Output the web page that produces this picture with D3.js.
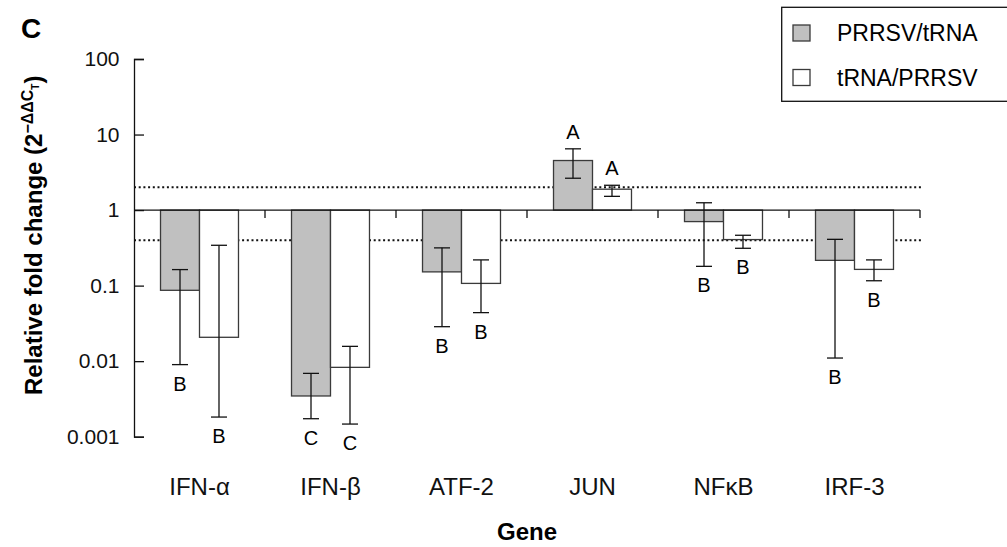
<!DOCTYPE html>
<html>
<head>
<meta charset="utf-8">
<script src="https://cdn.jsdelivr.net/npm/d3@7"></script>
<style>
  body { margin: 0; background: #fff; }
  svg { display: block; font-family: "Liberation Sans", Arial, Helvetica, sans-serif; }
</style>
</head>
<body>
<div id="chart"></div>
<script>
const width = 1007;
const height = 547;

// data
const genes = ["IFN-α", "IFN-β", "ATF-2", "JUN", "NFκB", "IRF-3"];
const seriesNames = ["PRRSV/tRNA", "tRNA/PRRSV"];
const seriesColors = ["#c0c0c0", "#ffffff"];

const prrsvMean = [0.0867, 0.00346, 0.152, 4.53, 0.704, 0.216];
const prrsvHigh = [0.163, 0.00689, 0.316, 6.47, 1.25, 0.410];
const prrsvLow = [0.0090, 0.00173, 0.0286, 2.64, 0.180, 0.0110];
const prrsvLetters = ["B", "C", "B", "A", "B", "B"];

const trnaMean = [0.0207, 0.00828, 0.107, 1.89, 0.407, 0.164];
const trnaHigh = [0.342, 0.0157, 0.219, 2.13, 0.464, 0.219];
const trnaLow = [0.00182, 0.00147, 0.0439, 1.52, 0.312, 0.116];
const trnaLetters = ["B", "C", "B", "A", "B", "B"];

const yTicks = [0.001, 0.01, 0.1, 1, 10, 100];
const yTickLabels = ["0.001", "0.01", "0.1", "1", "10", "100"];
const thresholds = [2, 0.4];

const rows = [];
genes.forEach((g, i) => {
  rows.push({ gene: g, series: seriesNames[0], mean: prrsvMean[i], hi: prrsvHigh[i], lo: prrsvLow[i], letter: prrsvLetters[i] });
  rows.push({ gene: g, series: seriesNames[1], mean: trnaMean[i], hi: trnaHigh[i], lo: trnaLow[i], letter: trnaLetters[i] });
});

const svg = d3.select("#chart")
  .append("svg")
  .attr("width", width)
  .attr("height", height);

const x = d3.scaleBand()
  .domain(genes)
  .range([134, 920])
  .paddingInner(0)
  .paddingOuter(0);

const x1 = d3.scaleBand()
  .domain(seriesNames)
  .range([0, x.bandwidth()])
  .paddingInner(0)
  .paddingOuter(0.68);

const y = d3.scaleLog()
  .domain([0.001, 100])
  .range([436.7, 59]);

const color = d3.scaleOrdinal().domain(seriesNames).range(seriesColors);

// panel letter
svg.append("text")
  .attr("x", 21)
  .attr("y", 37.5)
  .attr("font-size", 28)
  .attr("font-weight", "bold")
  .text("C");

// dotted threshold lines
svg.selectAll(".threshold")
  .data(thresholds)
  .enter()
  .append("line")
  .attr("class", "threshold")
  .attr("x1", 134)
  .attr("x2", 923)
  .attr("y1", d => y(d))
  .attr("y2", d => y(d))
  .attr("stroke", "#111")
  .attr("stroke-width", 2)
  .attr("stroke-dasharray", "2 2.7");

// bars
svg.selectAll(".bar")
  .data(rows)
  .enter()
  .append("rect")
  .attr("class", "bar")
  .attr("x", d => x(d.gene) + x1(d.series))
  .attr("width", x1.bandwidth())
  .attr("y", d => Math.min(y(d.mean), y(1)))
  .attr("height", d => Math.abs(y(d.mean) - y(1)))
  .attr("fill", d => color(d.series))
  .attr("stroke", "#3a3a3a")
  .attr("stroke-width", 1.3);

// baseline at 1 with boundary ticks
svg.append("line")
  .attr("x1", 134)
  .attr("x2", 920)
  .attr("y1", y(1))
  .attr("y2", y(1))
  .attr("stroke", "#111")
  .attr("stroke-width", 1.3);

svg.selectAll(".btick")
  .data(genes)
  .enter()
  .append("line")
  .attr("class", "btick")
  .attr("x1", d => x(d) + x.bandwidth())
  .attr("x2", d => x(d) + x.bandwidth())
  .attr("y1", y(1))
  .attr("y2", y(1) + 8)
  .attr("stroke", "#111")
  .attr("stroke-width", 1.3);

// error bars
const cap = 8;
const err = svg.selectAll(".err")
  .data(rows)
  .enter()
  .append("g")
  .attr("class", "err")
  .attr("transform", d => `translate(${x(d.gene) + x1(d.series) + x1.bandwidth() / 2},0)`)
  .attr("stroke", "#111")
  .attr("stroke-width", 1.3);

err.append("line")
  .attr("x1", 0).attr("x2", 0)
  .attr("y1", d => y(d.hi))
  .attr("y2", d => y(d.lo));
err.append("line")
  .attr("x1", -cap).attr("x2", cap)
  .attr("y1", d => y(d.hi))
  .attr("y2", d => y(d.hi));
err.append("line")
  .attr("x1", -cap).attr("x2", cap)
  .attr("y1", d => y(d.lo))
  .attr("y2", d => y(d.lo));

// significance letters
svg.selectAll(".letter")
  .data(rows)
  .enter()
  .append("text")
  .attr("class", "letter")
  .attr("x", d => x(d.gene) + x1(d.series) + x1.bandwidth() / 2)
  .attr("y", d => d.mean >= 1 ? y(d.hi) - 10 : y(d.lo) + 26)
  .attr("text-anchor", "middle")
  .attr("font-size", 20)
  .text(d => d.letter);

// y axis
const yAxis = d3.axisLeft(y)
  .tickValues(yTicks)
  .tickFormat((d, i) => yTickLabels[i])
  .tickSizeInner(-10)
  .tickSizeOuter(-10)
  .tickPadding(14.5);

const yg = svg.append("g")
  .attr("transform", "translate(134,0)")
  .call(yAxis);
yg.selectAll("path, line").attr("stroke", "#111").attr("stroke-width", 1.3);
yg.selectAll("text")
  .attr("font-size", 21)
  .attr("font-family", "Liberation Sans, Arial, sans-serif")
  .attr("fill", "#111");

// category labels
const xAxis = d3.axisBottom(x).tickSize(0).tickPadding(0);
const xg = svg.append("g")
  .attr("transform", "translate(0,478)")
  .call(xAxis);
xg.select(".domain").remove();
xg.selectAll("text")
  .attr("font-size", 24)
  .attr("font-family", "Liberation Sans, Arial, sans-serif")
  .attr("fill", "#111");

// axis titles
svg.append("text")
  .attr("x", 527)
  .attr("y", 540)
  .attr("text-anchor", "middle")
  .attr("font-size", 24)
  .attr("font-weight", "bold")
  .text("Gene");

const yTitle = svg.append("text")
  .attr("transform", "translate(41.5,395) rotate(-90)")
  .attr("font-size", 24)
  .attr("font-weight", "bold");
yTitle.append("tspan").text("Relative fold change (2");
yTitle.append("tspan").attr("font-size", 16).attr("dy", -9).text("−ΔΔC");
yTitle.append("tspan").attr("font-size", 10).attr("dy", 6).text("T");
yTitle.append("tspan").attr("dy", 3).text(")");

// legend
const legend = svg.append("g");
legend.append("rect")
  .attr("x", 781.7)
  .attr("y", 7.3)
  .attr("width", 240)
  .attr("height", 94)
  .attr("fill", "#fff")
  .attr("stroke", "#111")
  .attr("stroke-width", 1.3);

const items = legend.selectAll(".item")
  .data(seriesNames)
  .enter()
  .append("g")
  .attr("class", "item")
  .attr("transform", (d, i) => `translate(793,${25 + i * 44.5})`);

items.append("rect")
  .attr("width", 17)
  .attr("height", 16)
  .attr("fill", d => color(d))
  .attr("stroke", "#3a3a3a")
  .attr("stroke-width", 1.3);

items.append("text")
  .attr("x", 44)
  .attr("y", 16)
  .attr("font-size", 23)
  .text(d => d);
</script>
</body>
</html>
